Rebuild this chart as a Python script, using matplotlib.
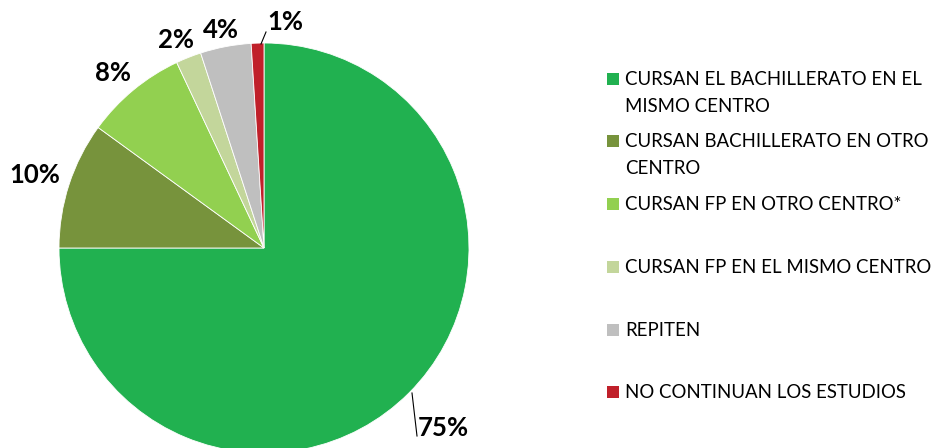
import matplotlib
matplotlib.use("Agg")
import matplotlib.pyplot as plt
from matplotlib.patches import Rectangle

categories = [
    "CURSAN EL BACHILLERATO EN EL\nMISMO CENTRO",
    "CURSAN BACHILLERATO EN OTRO\nCENTRO",
    "CURSAN FP EN OTRO CENTRO*",
    "CURSAN FP EN EL MISMO CENTRO",
    "REPITEN",
    "NO CONTINUAN LOS ESTUDIOS",
]
values = [75, 10, 8, 2, 4, 1]
pct_labels = ["75%", "10%", "8%", "2%", "4%", "1%"]
colors = ["#21B150", "#77933C", "#92D050", "#C3D69B", "#BFBFBF", "#C0202A"]

W, H = 934, 448
fig = plt.figure(figsize=(W / 100, H / 100), dpi=100)
cx, cy, R = 264, 248, 205  # pixel center (from top) and radius
ax = fig.add_axes([(cx - R) / W, (H - cy - R) / H, 2 * R / W, 2 * R / H])

wedges, _ = ax.pie(values, colors=colors, startangle=90, counterclock=False,
                   radius=1, center=(0, 0),
                   wedgeprops=dict(linewidth=0.6, edgecolor="white"))
ax.set_xlim(-1, 1)
ax.set_ylim(-1, 1)
ax.set_aspect("equal")
ax.axis("off")
for w in wedges:
    w.set_clip_on(False)

def d(px, py):
    return ((px - cx) / R, (cy - py) / R)

label_pos = [d(443, 428), d(35, 175), d(113, 73), d(176, 40), d(221, 30), d(285, 22)]
fontfam = ["Lato", "DejaVu Sans"]
for lab, pos in zip(pct_labels, label_pos):
    ax.text(pos[0], pos[1], lab, ha="center", va="center", fontsize=18.5,
            fontweight="bold", family=fontfam, color="#000000", clip_on=False)

# leader lines
for (p0, p1) in [((412, 393), (417, 436)), ((261, 44), (266, 32))]:
    a, b = d(*p0), d(*p1)
    ax.plot([a[0], b[0]], [a[1], b[1]], color="black", lw=0.8, clip_on=False)

# legend (manual, Excel-like spacing)
row_y = [79, 141, 204, 267, 330, 392]
for lab, col, y in zip(categories, colors, row_y):
    fig.patches.append(Rectangle((607 / W, (H - y - 6) / H), 12 / W, 12 / H,
                                 transform=fig.transFigure, facecolor=col,
                                 edgecolor="none"))
    fig.text(625 / W, (H - y + 8) / H, lab, ha="left", va="top",
             fontsize=13.4, family=fontfam, color="#000000", linespacing=1.7)

fig.savefig("out.png", dpi=100)
